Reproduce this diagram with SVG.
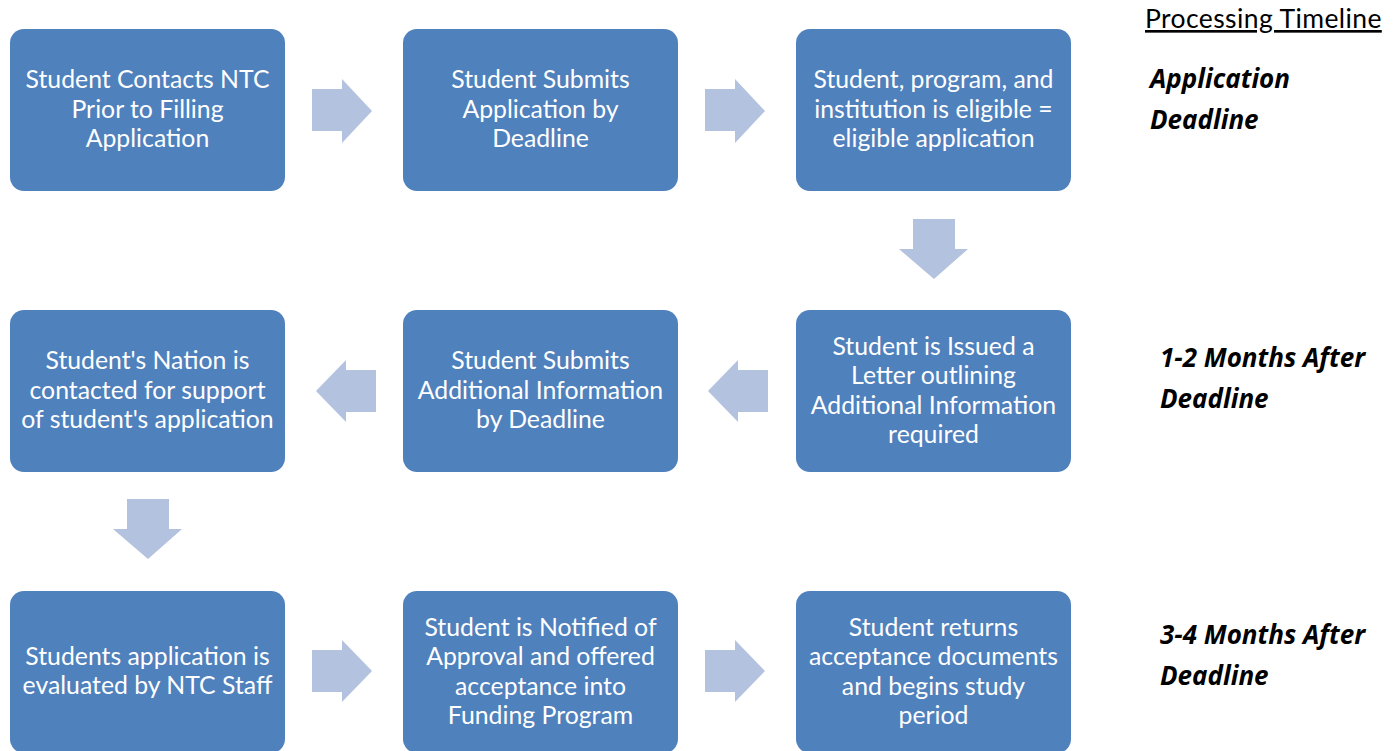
<svg xmlns="http://www.w3.org/2000/svg" width="1399" height="751" viewBox="0 0 1399 751">
<style>
.box{fill:#4F81BD}
.arr{fill:#B3C2DE}
.t{font-family:Lato,"Open Sans","Liberation Sans",sans-serif;font-size:24.8px;fill:#FFFFFF;text-anchor:middle}
.side{font-family:"Open Sans",Lato,"Liberation Sans",sans-serif;font-size:26px;font-weight:bold;font-style:italic;fill:#000000}
.hdr{font-family:Lato,"Open Sans","Liberation Sans",sans-serif;font-size:26.5px;letter-spacing:0.4px;fill:#000000;text-decoration:underline}
</style>
<rect width="1399" height="751" fill="#FFFFFF"/>
<g id="connectors">
<polygon class="arr" points="312,89 342,89 342,79 372,111 342,143 342,131 312,131"/>
<polygon class="arr" points="705,89 735,89 735,79 765,111 735,143 735,131 705,131"/>
<polygon class="arr" points="913,219 955,219 955,249 968,249 934,279 899,249 913,249"/>
<polygon class="arr" points="768,370 738,370 738,360 708,391 738,422 738,412 768,412"/>
<polygon class="arr" points="376,370 346,370 346,360 316,391 346,422 346,412 376,412"/>
<polygon class="arr" points="127,499 169,499 169,529 182,529 148,559 113,529 127,529"/>
<polygon class="arr" points="312,650 342,650 342,640 372,671 342,702 342,692 312,692"/>
<polygon class="arr" points="705,650 735,650 735,640 765,671 735,702 735,692 705,692"/>
</g>
<g id="n1"><rect class="box" x="10" y="29" width="275" height="162" rx="14"/>
<text class="t"><tspan x="147.5" y="88">Student Contacts NTC</tspan><tspan x="147.5" y="117.5">Prior to Filling</tspan><tspan x="147.5" y="147">Application</tspan></text></g>
<g id="n2"><rect class="box" x="403" y="29" width="275" height="162" rx="14"/>
<text class="t"><tspan x="540.5" y="88">Student Submits</tspan><tspan x="540.5" y="117.5">Application by</tspan><tspan x="540.5" y="147">Deadline</tspan></text></g>
<g id="n3"><rect class="box" x="796" y="29" width="275" height="162" rx="14"/>
<text class="t"><tspan x="933.5" y="88">Student, program, and</tspan><tspan x="933.5" y="117.5">institution is eligible =</tspan><tspan x="933.5" y="147">eligible application</tspan></text></g>
<g id="n4"><rect class="box" x="796" y="310" width="275" height="162" rx="14"/>
<text class="t"><tspan x="933.5" y="354.5">Student is Issued a</tspan><tspan x="933.5" y="384">Letter outlining</tspan><tspan x="933.5" y="413.5">Additional Information</tspan><tspan x="933.5" y="443">required</tspan></text></g>
<g id="n5"><rect class="box" x="403" y="310" width="275" height="162" rx="14"/>
<text class="t"><tspan x="540.5" y="369">Student Submits</tspan><tspan x="540.5" y="398.5">Additional Information</tspan><tspan x="540.5" y="428">by Deadline</tspan></text></g>
<g id="n6"><rect class="box" x="10" y="310" width="275" height="162" rx="14"/>
<text class="t"><tspan x="147.5" y="369">Student's Nation is</tspan><tspan x="147.5" y="398.5">contacted for support</tspan><tspan x="147.5" y="428">of student's application</tspan></text></g>
<g id="n7"><rect class="box" x="10" y="591" width="275" height="162" rx="14"/>
<text class="t"><tspan x="147.5" y="665">Students application is</tspan><tspan x="147.5" y="694">evaluated by NTC Staff</tspan></text></g>
<g id="n8"><rect class="box" x="403" y="591" width="275" height="162" rx="14"/>
<text class="t"><tspan x="540.5" y="635.5">Student is Notified of</tspan><tspan x="540.5" y="665">Approval and offered</tspan><tspan x="540.5" y="694.5">acceptance into</tspan><tspan x="540.5" y="724">Funding Program</tspan></text></g>
<g id="n9"><rect class="box" x="796" y="591" width="275" height="162" rx="14"/>
<text class="t"><tspan x="933.5" y="635.5">Student returns</tspan><tspan x="933.5" y="665">acceptance documents</tspan><tspan x="933.5" y="694.5">and begins study</tspan><tspan x="933.5" y="724">period</tspan></text></g>
<g id="timeline">
<text class="hdr" x="1145" y="28">Processing Timeline</text>
<text class="side"><tspan x="1150" y="88">Application</tspan><tspan x="1150" y="129">Deadline</tspan></text>
<text class="side"><tspan x="1160" y="367">1-2 Months After</tspan><tspan x="1160" y="408">Deadline</tspan></text>
<text class="side"><tspan x="1160" y="644">3-4 Months After</tspan><tspan x="1160" y="685">Deadline</tspan></text>
</g>
</svg>
